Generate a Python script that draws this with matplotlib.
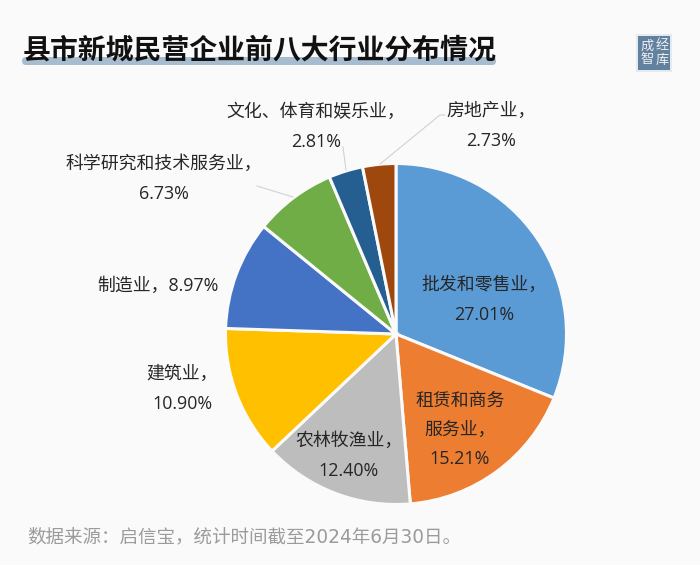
import matplotlib
matplotlib.use("Agg")
import matplotlib.pyplot as plt
from matplotlib.patches import FancyBboxPatch, Rectangle

plt.rcParams['font.family'] = ['Open Sans', 'Noto Sans CJK SC', 'DejaVu Sans']

HEIGHT = 565

categories = ["批发和零售业，", "租赁和商务\n服务业，", "农林牧渔业，", "建筑业，", "制造业，",
              "科学研究和技术服务业，", "文化、体育和娱乐业，", "房地产业，"]
values = [27.01, 15.21, 12.40, 10.90, 8.97, 6.73, 2.81, 2.73]
colors = ["#5B9BD5", "#ED7D31", "#BDBDBD", "#FFC000", "#4472C4", "#70AD47", "#255E91", "#9E480E"]

# label centres in pixels, the text block of each slice
label_pos = [(484, 300), (460, 430), (349, 456), (182, 389), (158, 286), (164, 179), (316, 127), (491, 126)]
one_line = [False, False, False, False, True, False, False, False]


def py(y):
    return HEIGHT - y


fig = plt.figure(figsize=(7, 5.65), dpi=100, facecolor="#FAFAFA")
ax = fig.add_axes([0, 0, 1, 1])

ax.pie(values, colors=colors, startangle=90, counterclock=False, center=(396, py(334)), radius=170.5,
       wedgeprops={"edgecolor": "#FAFAFA", "linewidth": 2.2}, frame=True)
ax.set_xlim(0, 700)
ax.set_ylim(0, HEIGHT)
ax.set_aspect("auto")
ax.axis("off")

# leader lines
for xs, ys in [([257, 293], [186, 197]), ([343, 346], [147, 170]), ([445, 440, 380], [115, 115, 164])]:
    ax.plot(xs, [py(y) for y in ys], color="#D2D2D2", lw=0.8, zorder=1)

for name, val, pos, single in zip(categories, values, label_pos, one_line):
    sep = "" if single else "\n"
    ax.text(pos[0], py(pos[1]), f"{name}{sep}{val:.2f}%", ha="center", va="center", fontsize=12.9,
            color="#262626", linespacing=1.82, zorder=5)

# title with underline bar
ax.add_patch(FancyBboxPatch((24, py(63)), 470, 4, boxstyle="round,pad=2,rounding_size=4",
                            facecolor="#A7BCCF", edgecolor="none", zorder=2))
ax.text(23, py(51), "县市新城民营企业前八大行业分布情况", fontsize=20.1, fontweight="bold",
        color="#111111", ha="left", va="center", zorder=3, family=['Noto Sans CJK SC', 'DejaVu Sans'])

# logo stamp
ax.add_patch(Rectangle((636, py(72)), 36, 38, facecolor="#E4EAEF", edgecolor="none", zorder=2))
ax.add_patch(Rectangle((638, py(70)), 32, 34, facecolor="#62819E", edgecolor="none", zorder=3))
for x, y, ch in [(647, 46, "成"), (662, 46, "经"), (647, 60, "智"), (662, 60, "库")]:
    ax.text(x, py(y), ch, fontsize=9.5, color="#EDEFF2", ha="center", va="center", zorder=4)

ax.text(27, py(537), "数据来源：启信宝，统计时间截至2024年6月30日。", fontsize=13.35, color="#9B9B9B",
        ha="left", va="center", family=['DejaVu Sans', 'Noto Sans CJK SC'])

fig.savefig("out.png", dpi=100, facecolor=fig.get_facecolor())
